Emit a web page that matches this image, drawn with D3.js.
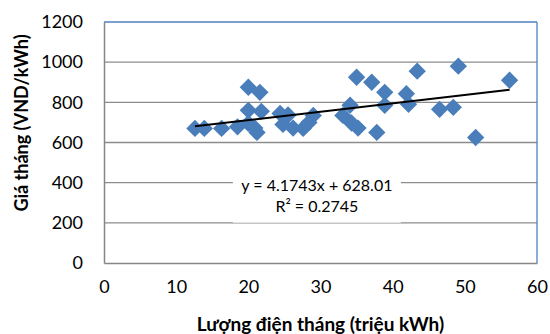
<!DOCTYPE html>
<html>
<head>
<meta charset="utf-8">
<script src="https://cdn.jsdelivr.net/npm/d3@7"></script>
<style>
  body { margin: 0; background: #fff; }
  svg { display: block; font-family: Lato, "Open Sans", sans-serif; }
</style>
</head>
<body>
<div id="chart"></div>
<script>
// monthly volume (million kWh) vs monthly price (VND/kWh)
const volume = [12.6, 13.9, 16.3, 18.5, 20.0, 21.6, 20.0, 21.8, 20.0, 20.9, 21.2,
  24.4, 25.5, 24.8, 26.2, 27.6, 29.0, 28.4, 33.1, 34.1, 34.3, 35.2, 35.0, 37.1,
  37.8, 38.9, 38.9, 41.9, 42.2, 43.4, 46.5, 48.4, 49.1, 51.5, 56.2];
const price = [670, 670, 670, 678, 875, 850, 760, 755, 695, 672, 650,
  745, 737, 690, 672, 670, 735, 700, 735, 786, 697, 672, 925, 900,
  650, 850, 785, 843, 790, 955, 765, 775, 980, 625, 910];

const xTicks = [0, 10, 20, 30, 40, 50, 60];
const yTicks = [0, 200, 400, 600, 800, 1000, 1200];
const slope = 4.1743, intercept = 628.01;
const eqLines = ['y = 4.1743x + 628.01', 'R² = 0.2745'];

const W = 550, H = 334;
const margin = { top: 22, right: 13, bottom: 71, left: 104 };
const width = W - margin.left - margin.right;
const height = H - margin.top - margin.bottom;

const svg = d3.select('#chart').append('svg')
  .attr('width', W)
  .attr('height', H);

const g = svg.append('g')
  .attr('transform', `translate(${margin.left},${margin.top})`);

const x = d3.scaleLinear().domain([0, 60]).range([0, width]);
const y = d3.scaleLinear().domain([0, 1200]).range([height, 0]);

// gridlines
g.append('g')
  .selectAll('line')
  .data(yTicks.slice(1))
  .enter()
  .append('line')
  .attr('x1', 0)
  .attr('x2', width)
  .attr('y1', d => y(d))
  .attr('y2', d => y(d))
  .attr('stroke', d => d === 1200 ? '#4f81bd' : '#8c8c8c')
  .attr('stroke-width', 1.3);

// right border (blue, like a selected plot area)
g.append('line')
  .attr('x1', width).attr('x2', width)
  .attr('y1', 0).attr('y2', height)
  .attr('stroke', '#4f81bd')
  .attr('stroke-width', 1.3);

// axes
const xAxis = g.append('g')
  .attr('transform', `translate(0,${height})`)
  .call(d3.axisBottom(x).tickValues(xTicks).tickSize(0).tickPadding(17));
const yAxis = g.append('g')
  .call(d3.axisLeft(y).tickValues(yTicks).tickFormat(d3.format('d')).tickSize(0).tickPadding(21));

[xAxis, yAxis].forEach(a => {
  a.select('.domain').attr('stroke', '#868686').attr('stroke-width', 1.5);
  a.selectAll('text')
    .attr('fill', '#000')
    .style('font-family', 'Lato, sans-serif')
    .style('font-size', '18px');
});

// equation label box
const eqX = x(29.5), eqY = y(390);
g.append('rect')
  .attr('x', eqX - 84)
  .attr('y', eqY - 12)
  .attr('width', 168)
  .attr('height', 50)
  .attr('fill', '#fff');

// markers
const diamond = {
  draw(ctx, size) {
    const r = Math.sqrt(size / 2);
    ctx.moveTo(0, -r);
    ctx.lineTo(r, 0);
    ctx.lineTo(0, r);
    ctx.lineTo(-r, 0);
    ctx.closePath();
  }
};
const pts = volume.map((v, i) => ({ v, p: price[i] }));

g.append('g')
  .selectAll('path')
  .data(pts)
  .enter()
  .append('path')
  .attr('transform', d => `translate(${x(d.v)},${y(d.p)})`)
  .attr('d', d3.symbol().type(diamond).size(150))
  .attr('fill', '#4a7ebb');

// linear trendline over the data range
const xr = d3.extent(volume);
g.append('path')
  .datum(xr)
  .attr('fill', 'none')
  .attr('stroke', '#000')
  .attr('stroke-width', 2)
  .attr('d', d3.line()
    .x(d => x(d))
    .y(d => y(slope * d + intercept)));

g.append('g')
  .selectAll('text')
  .data(eqLines)
  .enter()
  .append('text')
  .attr('x', eqX)
  .attr('y', (d, i) => eqY + 6 + i * 21)
  .attr('text-anchor', 'middle')
  .style('font-size', '16px')
  .text(d => d);

// axis titles
svg.append('text')
  .attr('x', margin.left + x(30))
  .attr('y', 331)
  .attr('text-anchor', 'middle')
  .style('font-size', '19px')
  .style('font-weight', 'bold')
  .text('Lượng điện tháng (triệu kWh)');

svg.append('text')
  .attr('transform', `translate(28,123) rotate(-90)`)
  .attr('text-anchor', 'middle')
  .style('font-size', '18px')
  .style('font-weight', 'bold')
  .text('Giá tháng (VND/kWh)');
</script>
</body>
</html>
